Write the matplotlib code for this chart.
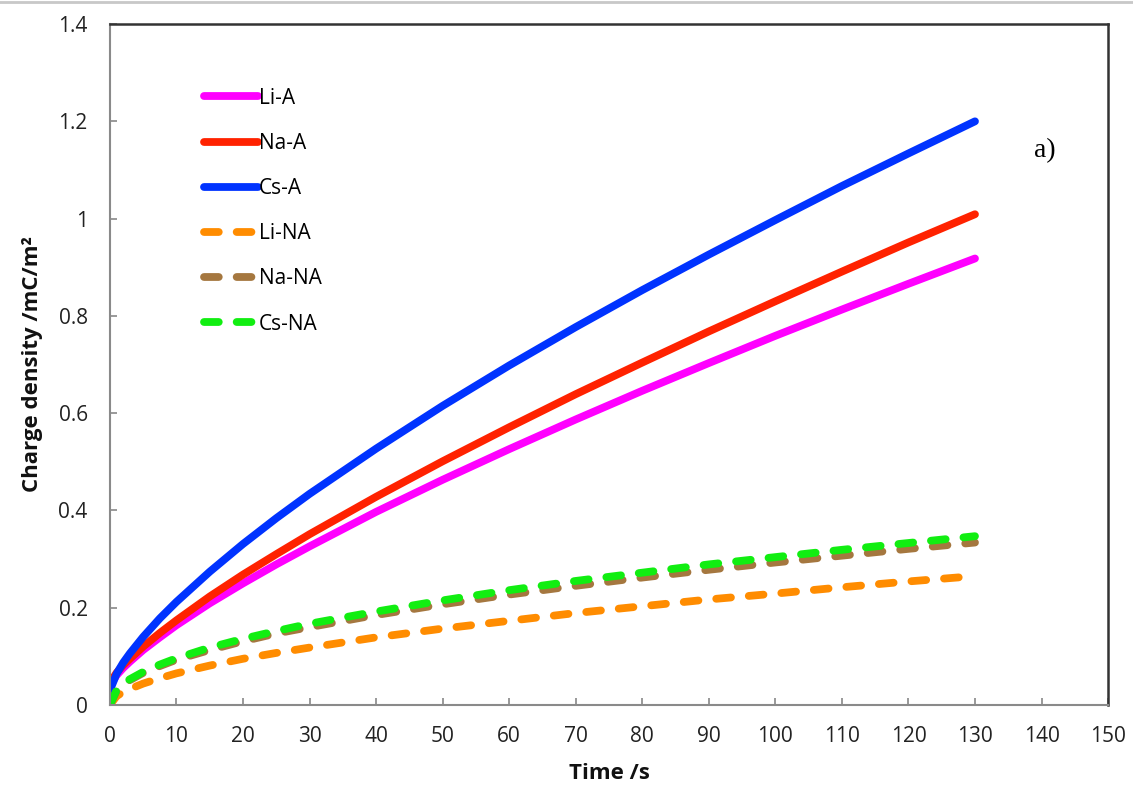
import numpy as np
import matplotlib
matplotlib.use("Agg")
import matplotlib.pyplot as plt
from matplotlib.lines import Line2D

# tiempo (s) y densidad de carga (mC/m2) de cada serie
tiempo = [0, 1, 2, 3, 5, 7.5, 10, 15, 20, 25, 30, 40, 50, 60, 70, 80, 90, 100, 110, 120, 130]

li_a = [0.040, 0.061, 0.076, 0.089, 0.113, 0.139, 0.164, 0.209, 0.250, 0.289, 0.326,
        0.397, 0.463, 0.526, 0.587, 0.646, 0.703, 0.759, 0.813, 0.866, 0.918]
na_a = [0.045, 0.066, 0.082, 0.095, 0.120, 0.148, 0.174, 0.223, 0.268, 0.310, 0.351,
        0.428, 0.501, 0.571, 0.639, 0.704, 0.768, 0.830, 0.891, 0.951, 1.009]
cs_a = [0.030, 0.064, 0.087, 0.106, 0.140, 0.178, 0.212, 0.274, 0.331, 0.384, 0.434,
        0.527, 0.615, 0.698, 0.777, 0.853, 0.926, 0.997, 1.067, 1.134, 1.200]
li_na = [0.0, 0.018, 0.027, 0.033, 0.044, 0.055, 0.065, 0.081, 0.095, 0.107, 0.118,
         0.139, 0.157, 0.173, 0.189, 0.203, 0.217, 0.229, 0.242, 0.254, 0.265]
na_na = [0.0, 0.029, 0.041, 0.051, 0.066, 0.080, 0.093, 0.113, 0.131, 0.147, 0.160,
         0.185, 0.207, 0.227, 0.245, 0.262, 0.278, 0.293, 0.307, 0.321, 0.334]
cs_na = [0.0, 0.030, 0.043, 0.053, 0.068, 0.083, 0.096, 0.118, 0.136, 0.152, 0.167,
         0.192, 0.215, 0.236, 0.255, 0.272, 0.289, 0.304, 0.319, 0.333, 0.347]

series = [
    ("Li-A", li_a, "#FF00FF", "-"),
    ("Na-A", na_a, "#FF2200", "-"),
    ("Cs-A", cs_a, "#0033FF", "-"),
    ("Li-NA", li_na, "#FF8C00", "--"),
    ("Na-NA", na_na, "#A5773F", "--"),
    ("Cs-NA", cs_na, "#11EE11", "--"),
]

plt.rcParams["font.family"] = ["Open Sans", "DejaVu Sans"]

fig = plt.figure(figsize=(11.33, 7.89), dpi=100)
ax = fig.add_axes([0.097, 0.1065, 0.881, 0.863])

for nombre, valores, color, estilo in series:
    linea, = ax.plot(tiempo, valores, color=color, lw=5.6, label=nombre,
                     solid_capstyle="round", dash_capstyle="round",
                     solid_joinstyle="round")
    if estilo == "--":
        linea.set_dashes((1.9, 2.3))

ax.set_xlim(0, 150)
ax.set_ylim(0, 1.4)
ax.set_xticks(np.arange(0, 151, 10))
ax.set_yticks(np.arange(0, 1.41, 0.2))
ax.set_yticklabels(["0", "0.2", "0.4", "0.6", "0.8", "1", "1.2", "1.4"])
ax.tick_params(direction="in", length=5, width=1.2, color="#888888",
               labelsize=15, labelcolor="#222222")
ax.tick_params(axis="x", pad=15)
ax.tick_params(axis="y", pad=16)

for lado in ["left", "bottom"]:
    ax.spines[lado].set_color("#8a8a8a")
    ax.spines[lado].set_linewidth(1.5)
for lado in ["top", "right"]:
    ax.spines[lado].set_color("#333333")
    ax.spines[lado].set_linewidth(1.8)

ax.set_xlabel("Time /s", fontsize=16, fontweight="bold", labelpad=12, color="#111111")
ax.set_ylabel("Charge density /mC/m²", fontsize=16, fontweight="bold", labelpad=11,
              color="#111111")

ax.legend(loc="upper left", bbox_to_anchor=(0.075, 0.934), frameon=False,
          fontsize=15, handlelength=2.6, handletextpad=0.05, labelspacing=1.16)

ax.text(140.5, 1.14, "a)", fontsize=20, family="Liberation Serif", ha="center", va="center")

# linea gris superior
fig.add_artist(Line2D([0, 1], [0.998, 0.998], color="#c8c8c8", lw=2))

fig.savefig("out.png", dpi=100)
